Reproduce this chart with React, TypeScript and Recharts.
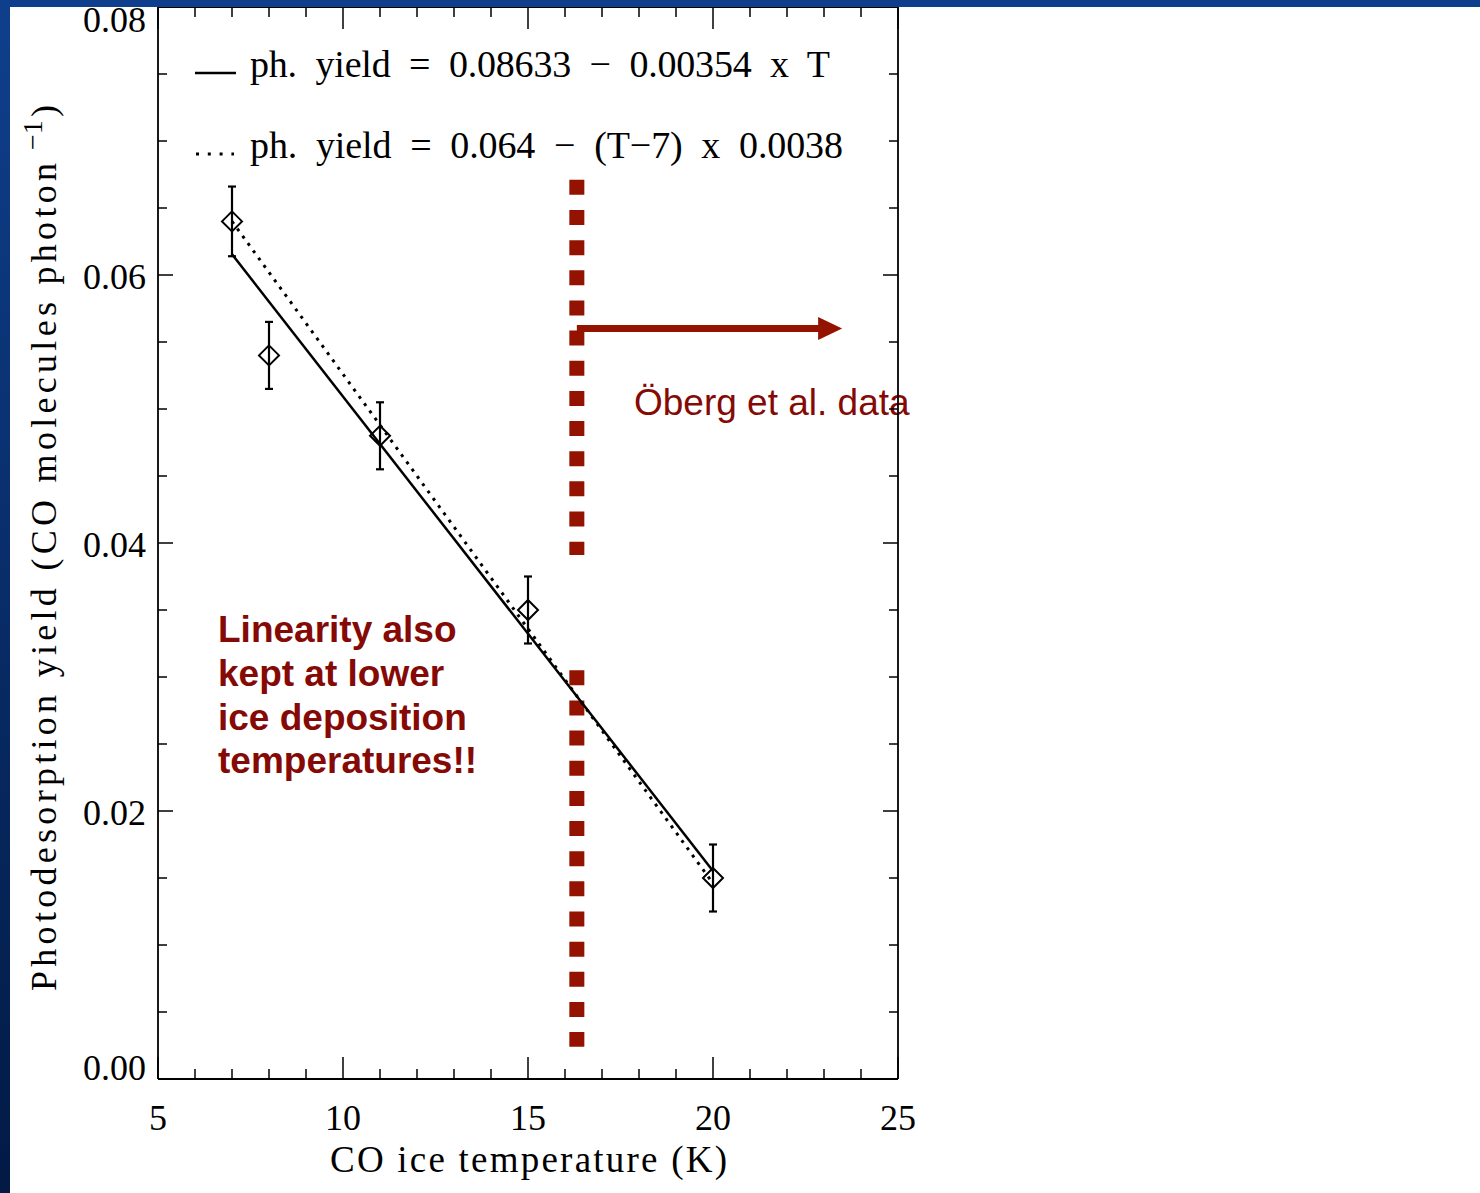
import React from 'react';
import {
  ComposedChart,
  XAxis,
  YAxis,
  Line,
  Scatter,
  ErrorBar,
  ReferenceLine,
  Customized,
} from 'recharts';

// Measured photodesorption yields per CO ice temperature
const temperatures = [7, 8, 11, 15, 20];
const yields = [0.064, 0.054, 0.048, 0.035, 0.015];
const yieldErrors = [0.0026, 0.0025, 0.0025, 0.0025, 0.0025];

// Linear fits, end points (solid: 0.08633 - 0.00354 T, dotted: 0.064 - (T-7) 0.0038)
const fitT = [7, 20];
const solidFitY = [0.06155, 0.01553];
const dottedFitY = [0.064, 0.0146];

// Temperature threshold of the other data set and the arrow pointing to it
const thresholdT = 16.32;
const upperDashY = [0.0671, 0.0391];
const lowerDashY = [0.0305, 0.0024];
const arrowY = 0.056;
const arrowEndT = 23.49;

// Axis ticks
const xTicks = [5, 6, 7, 8, 9, 10, 11, 12, 13, 14, 15, 16, 17, 18, 19, 20, 21, 22, 23, 24, 25];
const yTicks = [
  0, 0.005, 0.01, 0.015, 0.02, 0.025, 0.03, 0.035, 0.04, 0.045, 0.05, 0.055, 0.06, 0.065, 0.07,
  0.075, 0.08,
];

const points = temperatures.map((T, i) => ({ T, y: yields[i], err: yieldErrors[i] }));
const solidFit = fitT.map((T, i) => ({ T, y: solidFitY[i] }));
const dottedFit = fitT.map((T, i) => ({ T, y: dottedFitY[i] }));

const SERIF = "'Liberation Serif', 'Times New Roman', serif";
const SANS = "'Liberation Sans', Arial, sans-serif";
const DARK_RED = '#931300';
const TEXT_RED = '#850a05';

const isMajorX = (v: number) => Math.round(v) % 5 === 0;
const isMajorY = (v: number) => Math.round(v * 1000) % 20 === 0;

const BottomTick = (props: any) => {
  const { x, y, payload } = props;
  const v: number = payload.value;
  const major = isMajorX(v);
  return (
    <g>
      <line x1={x} y1={y} x2={x} y2={y - (major ? 22 : 10)} stroke="#000" strokeWidth={1.5} />
      {major && (
        <text x={x} y={y + 51} textAnchor="middle" fontFamily={SERIF} fontSize={36} fill="#000">
          {v}
        </text>
      )}
    </g>
  );
};

const TopTick = (props: any) => {
  const { x, y, payload } = props;
  const major = isMajorX(payload.value);
  return <line x1={x} y1={y} x2={x} y2={y + (major ? 22 : 10)} stroke="#000" strokeWidth={1.5} />;
};

const LeftTick = (props: any) => {
  const { x, y, payload } = props;
  const v: number = payload.value;
  const major = isMajorY(v);
  const milli = Math.round(v * 1000);
  let dy = 13.5;
  if (milli === 0) dy = 1;
  if (milli === 80) dy = 25;
  return (
    <g>
      <line x1={x} y1={y} x2={x + (major ? 15 : 9)} y2={y} stroke="#000" strokeWidth={1.5} />
      {major && (
        <text x={x - 12} y={y + dy} textAnchor="end" fontFamily={SERIF} fontSize={36} fill="#000">
          {v.toFixed(2)}
        </text>
      )}
    </g>
  );
};

const RightTick = (props: any) => {
  const { x, y, payload } = props;
  const major = isMajorY(payload.value);
  return <line x1={x} y1={y} x2={x - (major ? 15 : 9)} y2={y} stroke="#000" strokeWidth={1.5} />;
};

const Diamond = (props: any) => {
  const { cx, cy } = props;
  if (cx == null || cy == null) return null;
  const r = 10;
  return (
    <path
      d={`M${cx},${cy - r}L${cx + r},${cy}L${cx},${cy + r}L${cx - r},${cy}Z`}
      fill="none"
      stroke="#000"
      strokeWidth={2}
    />
  );
};

const Arrow = (props: any) => {
  const { x1, y1, x2 } = props;
  if (x1 == null) return null;
  const head = 24;
  return (
    <g>
      <line x1={x1} y1={y1} x2={x2 - head + 2} y2={y1} stroke={DARK_RED} strokeWidth={7} />
      <polygon
        points={`${x2},${y1} ${x2 - head},${y1 - 11.5} ${x2 - head},${y1 + 11.5}`}
        fill={DARK_RED}
      />
    </g>
  );
};

const Annotations = () => (
  <g>
    {/* fit legend */}
    <line x1={195} y1={73} x2={236} y2={73} stroke="#000" strokeWidth={2.4} />
    <text
      x={250}
      y={77}
      fontFamily={SERIF}
      fontSize={38}
      textLength={580}
      lengthAdjust="spacing"
      fill="#000"
      style={{ whiteSpace: 'pre' }}
    >
      {'ph.  yield  =  0.08633  −  0.00354  x  T'}
    </text>
    <line x1={196} y1={154} x2={234} y2={154} stroke="#000" strokeWidth={3} strokeDasharray="3 8.8" />
    <text
      x={250}
      y={158}
      fontFamily={SERIF}
      fontSize={38}
      textLength={593}
      lengthAdjust="spacing"
      fill="#000"
      style={{ whiteSpace: 'pre' }}
    >
      {'ph.  yield  =  0.064  −  (T−7)  x  0.0038'}
    </text>

    {/* axis titles */}
    <text x={330} y={1172} fontFamily={SERIF} fontSize={37} textLength={397} lengthAdjust="spacing" fill="#000">
      CO ice temperature (K)
    </text>
    <g transform="translate(56,991) rotate(-90)">
      <text x={0} y={0} fontFamily={SERIF} fontSize={36} textLength={828} lengthAdjust="spacing" fill="#000">
        Photodesorption yield (CO molecules photon
      </text>
      <text x={841} y={-14} fontFamily={SERIF} fontSize={28} fill="#000">
        −1
      </text>
      <text x={874} y={0} fontFamily={SERIF} fontSize={36} fill="#000">
        )
      </text>
    </g>

    {/* notes */}
    <text x={634} y={415} fontFamily={SANS} fontSize={37} fill={TEXT_RED}>
      Öberg et al. data
    </text>
    <text fontFamily={SANS} fontSize={37} fontWeight="bold" fill={TEXT_RED}>
      <tspan x={218} y={642}>Linearity also</tspan>
      <tspan x={218} y={686}>kept at lower</tspan>
      <tspan x={218} y={730}>ice deposition</tspan>
      <tspan x={218} y={773}>temperatures!!</tspan>
    </text>
  </g>
);

export default function App() {
  return (
    <div
      style={{
        position: 'absolute',
        left: 0,
        top: 0,
        width: 1480,
        height: 1193,
        background: '#ffffff',
        overflow: 'hidden',
      }}
    >
      <ComposedChart
        width={1480}
        height={1193}
        margin={{ top: 6, right: 581, bottom: 54, left: 58 }}
      >
        <XAxis
          dataKey="T"
          type="number"
          domain={[5, 25]}
          ticks={xTicks}
          interval={0}
          tickSize={0}
          tickMargin={0}
          tickLine={false}
          height={60}
          tick={<BottomTick />}
          axisLine={{ stroke: '#000', strokeWidth: 1.8 }}
          allowDataOverflow
        />
        <XAxis
          xAxisId="top"
          orientation="top"
          dataKey="T"
          type="number"
          domain={[5, 25]}
          ticks={xTicks}
          interval={0}
          tickSize={0}
          tickMargin={0}
          tickLine={false}
          height={1}
          tick={<TopTick />}
          axisLine={{ stroke: '#000', strokeWidth: 1.8 }}
          allowDataOverflow
        />
        <YAxis
          dataKey="y"
          type="number"
          domain={[0, 0.08]}
          ticks={yTicks}
          interval={0}
          tickSize={0}
          tickMargin={0}
          tickLine={false}
          width={100}
          tick={<LeftTick />}
          axisLine={{ stroke: '#000', strokeWidth: 1.8 }}
          allowDataOverflow
        />
        <YAxis
          yAxisId="right"
          orientation="right"
          type="number"
          domain={[0, 0.08]}
          ticks={yTicks}
          interval={0}
          tickSize={0}
          tickMargin={0}
          tickLine={false}
          width={1}
          tick={<RightTick />}
          axisLine={{ stroke: '#000', strokeWidth: 1.8 }}
          allowDataOverflow
        />

        <ReferenceLine
          segment={[
            { x: thresholdT, y: upperDashY[0] },
            { x: thresholdT, y: upperDashY[1] },
          ]}
          stroke={DARK_RED}
          strokeWidth={15}
          strokeDasharray="15 15.15"
        />
        <ReferenceLine
          segment={[
            { x: thresholdT, y: lowerDashY[0] },
            { x: thresholdT, y: lowerDashY[1] },
          ]}
          stroke={DARK_RED}
          strokeWidth={15}
          strokeDasharray="15 15.15"
        />
        <ReferenceLine
          segment={[
            { x: thresholdT, y: arrowY },
            { x: arrowEndT, y: arrowY },
          ]}
          shape={(p: any) => <Arrow {...p} />}
        />

        <Line
          data={dottedFit}
          dataKey="y"
          type="linear"
          stroke="#000"
          strokeWidth={3}
          strokeDasharray="3 6"
          dot={false}
          activeDot={false}
          isAnimationActive={false}
        />
        <Line
          data={solidFit}
          dataKey="y"
          type="linear"
          stroke="#000"
          strokeWidth={2.5}
          dot={false}
          activeDot={false}
          isAnimationActive={false}
        />
        <Scatter data={points} dataKey="y" shape={<Diamond />} isAnimationActive={false}>
          <ErrorBar dataKey="err" direction="y" width={4} stroke="#000" strokeWidth={2.2} />
        </Scatter>

        <Customized component={<Annotations />} />
      </ComposedChart>

      {/* slide frame */}
      <div
        style={{ position: 'absolute', left: 0, top: 0, width: 1480, height: 7, background: '#0f3f8c' }}
      />
      <div
        style={{
          position: 'absolute',
          left: 0,
          top: 0,
          width: 10,
          height: 1193,
          background: 'linear-gradient(to bottom, #0f3f8c, #021a44)',
        }}
      />
    </div>
  );
}
